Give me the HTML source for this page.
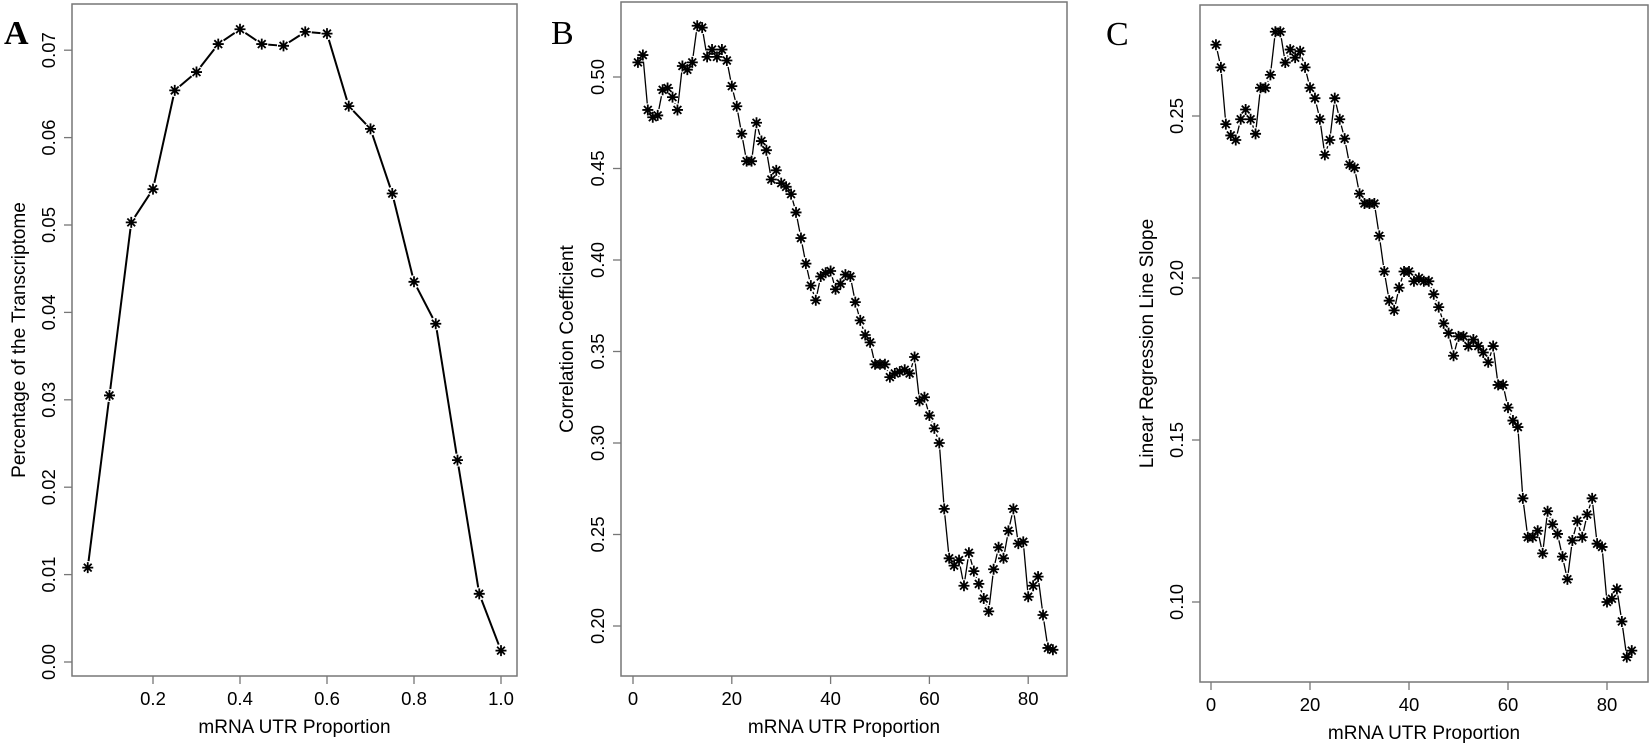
<!DOCTYPE html>
<html><head><meta charset="utf-8"><style>
html,body{margin:0;padding:0;background:#fff;}
svg{display:block;}
text{font-family:"Liberation Sans",sans-serif;fill:#000;}
.tk{font-size:18.5px;}
.ttl{font-size:19px;}
.let{font-family:"Liberation Serif",serif;font-size:34px;}
</style></head><body>
<svg id="s" width="1650" height="743" xmlns="http://www.w3.org/2000/svg">
<text class="let" x="4" y="44" style="font-weight:bold">A</text>
<text class="let" x="551" y="44">B</text>
<text class="let" x="1106" y="45">C</text>
</svg>
<script>
const NS="http://www.w3.org/2000/svg",S=document.getElementById('s');
function el(t,a,txt){const e=document.createElementNS(NS,t);for(const k in a)e.setAttribute(k,a[k]);if(txt!==undefined)e.textContent=txt;S.appendChild(e);return e;}
function star(x,y){const r=5.5,d=3.9;
 el('path',{d:`M${x-r} ${y}H${x+r}M${x} ${y-r}V${y+r}M${x-d} ${y-d}L${x+d} ${y+d}M${x-d} ${y+d}L${x+d} ${y-d}`,stroke:'#000','stroke-width':1.8});}
function panel(p){
 const X=v=>p.x0+(v-p.xv0)*p.xs, Y=v=>p.y0-(v-p.yv0)*p.ys;
 el('rect',{x:p.L,y:p.T,width:p.R-p.L,height:p.B-p.T,fill:'none',stroke:'#777','stroke-width':1.5});
 p.xt.forEach(v=>{const x=X(v);el('line',{x1:x,y1:p.B,x2:x,y2:p.B+8,stroke:'#777','stroke-width':1.3});
  el('text',{x:x,y:p.B+29,'text-anchor':'middle',class:'tk'},p.xf(v));});
 p.yt.forEach(v=>{const y=Y(v);el('line',{x1:p.L,y1:y,x2:p.L-8,y2:y,stroke:'#777','stroke-width':1.3});
  el('text',{x:p.L-17,y:y,'text-anchor':'middle',class:'tk',transform:`rotate(-90 ${p.L-17} ${y})`},v.toFixed(2));});
 el('text',{x:(p.L+p.R)/2,y:p.B+57,'text-anchor':'middle',class:'ttl'},'mRNA UTR Proportion');
 el('text',{x:p.yl,y:(p.T+p.B)/2,'text-anchor':'middle',class:'ttl',transform:`rotate(-90 ${p.yl} ${(p.T+p.B)/2})`},p.ylab);
 const pts=p.data.map((v,i)=>[X(p.xd(i)),Y(v)]);
 for(let i=0;i<pts.length-1;i++){const [a,b]=pts[i],[c,d]=pts[i+1];const dx=c-a,dy=d-b,L=Math.hypot(dx,dy),g=6.5;
  if(L>2*g)el('line',{x1:a+dx/L*g,y1:b+dy/L*g,x2:c-dx/L*g,y2:d-dy/L*g,stroke:'#000','stroke-width':p.lw});}
 pts.forEach(q=>star(q[0],q[1]));
}
const A=[.0108,.0305,.0503,.0541,.0654,.0675,.0707,.0724,.0707,.0705,.0721,.0719,.0636,.0610,.0536,.0435,.0387,.0231,.0078,.0013];
panel({L:72,R:517,T:4,B:676,x0:153,xv0:0.2,xs:435,y0:662,yv0:0,ys:8740,
 xt:[0.2,0.4,0.6,0.8,1.0],xf:v=>v.toFixed(1),yt:[0,.01,.02,.03,.04,.05,.06,.07],
 yl:25,ylab:'Percentage of the Transcriptome',data:A,xd:i=>0.05*(i+1),lw:2});
const B=[.508,.512,.482,.478,.479,.493,.494,.489,.482,.506,.504,.508,.528,.527,.511,.515,.511,.515,.509,.495,.484,.469,.454,.454,.475,.465,.460,.444,.449,.442,.440,.436,.426,.412,.398,.386,.378,.391,.393,.394,.384,.387,.392,.391,.377,.367,.359,.355,.343,.343,.343,.336,.338,.339,.340,.338,.347,.323,.325,.315,.308,.300,.264,.237,.233,.236,.222,.240,.230,.223,.215,.208,.231,.243,.237,.252,.264,.245,.246,.216,.222,.227,.206,.188,.187];
panel({L:621,R:1067,T:2,B:676,x0:633,xv0:0,xs:4.94,y0:443,yv0:0.30,ys:1830,
 xt:[0,20,40,60,80],xf:v=>String(v),yt:[.20,.25,.30,.35,.40,.45,.50],
 yl:573,ylab:'Correlation Coefficient',data:B,xd:i=>i+1,lw:1.3});
const C=[.272,.265,.2475,.244,.2426,.249,.252,.249,.2445,.2587,.2587,.2627,.276,.276,.2665,.2705,.268,.270,.265,.2587,.2555,.249,.238,.2426,.2555,.249,.243,.235,.234,.226,.223,.223,.223,.213,.202,.193,.190,.197,.202,.202,.199,.200,.199,.199,.195,.191,.186,.183,.176,.182,.182,.179,.181,.179,.177,.174,.179,.167,.167,.160,.156,.154,.132,.120,.120,.122,.115,.128,.124,.121,.114,.107,.119,.125,.120,.127,.132,.118,.117,.100,.101,.104,.094,.083,.085];
panel({L:1200,R:1648,T:5,B:682,x0:1211,xv0:0,xs:4.95,y0:602,yv0:0.10,ys:3240,
 xt:[0,20,40,60,80],xf:v=>String(v),yt:[.10,.15,.20,.25],
 yl:1153,ylab:'Linear Regression Line Slope',data:C,xd:i=>i+1,lw:1.3});
</script>
</body></html>
